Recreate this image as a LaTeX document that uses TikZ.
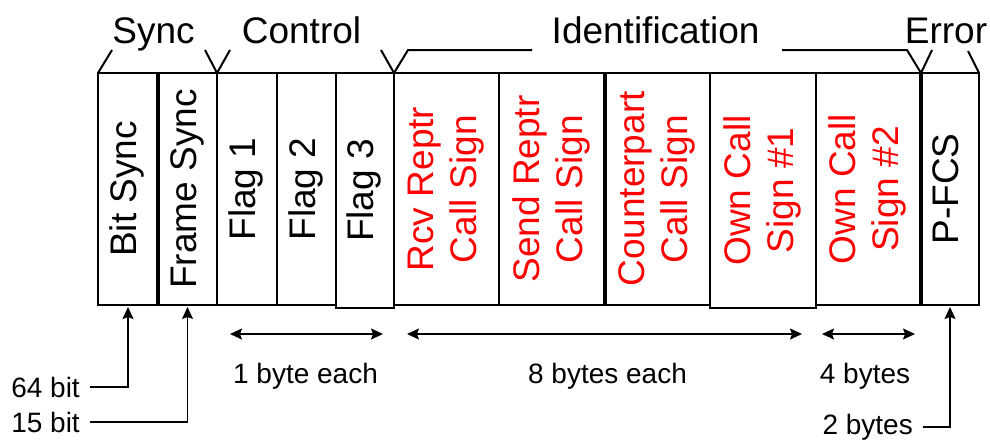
\documentclass[tikz,border=0pt]{standalone}
\usepackage{fontspec}
\setmainfont{Liberation Sans}
\usetikzlibrary{
    positioning,
    arrows.meta
}
\tikzset{
    >={Stealth[length=12pt, width=11pt, inset=2pt]},
    field/.style={
        draw,
        line width=2pt,
        inner sep=0pt,
        outer sep=0pt,
        minimum height=232pt,
        anchor=north west,
        font=\fontsize{37}{43}\selectfont
    },
    tall/.style={minimum height=235pt},
    ident/.style={text=red},
    head/.style={
        inner sep=0pt,
        anchor=base,
        font=\fontsize{37}{43}\selectfont
    },
    note/.style={
        inner sep=0pt,
        font=\fontsize{28}{32}\selectfont
    },
    brace/.style={line width=2pt},
    sep/.style={line width=4pt},
    span/.style={<->, line width=1.5pt},
    lead/.style={->, line width=1.5pt, shorten <=10pt, shorten >=2pt}
}
\newcommand{\vlabel}[1]{\rotatebox{90}{\begin{tabular}{@{}c@{}}#1\end{tabular}}}

\begin{document}
\begin{tikzpicture}[
    x=1pt,
    y=-1pt
]
    \useasboundingbox (0,0) rectangle (990,439);

    % Campos
    \node[field, minimum width=60pt]       (bit)   at (98,73)           {\vlabel{Bit Sync}};
    \node[field, minimum width=59pt]       (frame) at (bit.north east)   {\vlabel{Frame Sync}};
    \node[field, minimum width=60pt]       (flagA) at (frame.north east) {\vlabel{Flag 1}};
    \node[field, minimum width=59pt]       (flagB) at (flagA.north east) {\vlabel{Flag 2}};
    \node[field, tall, minimum width=58pt] (flagC) at (flagB.north east) {\vlabel{Flag 3}};

    \node[field, ident, minimum width=105pt]       (rcv)  at (flagC.north east) {\vlabel{Rcv Reptr\\Call Sign}};
    \node[field, ident, minimum width=106pt]       (send) at (rcv.north east)   {\vlabel{Send Reptr\\Call Sign}};
    \node[field, ident, minimum width=105pt]       (ctp)  at (send.north east)  {\vlabel{Counterpart\\Call Sign}};
    \node[field, ident, tall, minimum width=106pt] (ownA) at (ctp.north east)   {\vlabel{Own Call\\Sign \#1}};
    \node[field, ident, minimum width=105pt]       (ownB) at (ownA.north east)  {\vlabel{Own Call\\Sign \#2}};

    \node[field, minimum width=58pt] (fcs) at (ownB.north east) {\vlabel{P-FCS}};

    % Separadores gruesos
    \draw[sep] (bit.north east)  -- (bit.south east);
    \draw[sep] (send.north east) -- (send.south east);
    \draw[sep] (ownB.north east) -- (ownB.south east);

    % Encabezados
    \node[head] (sync) at (153.5,43) {Sync};
    \node[head] (ctrl) at (301.5,43) {Control};
    \node[head] (idt)  at (655.6,43) {Identification};
    \node[head] (err)  at (946,43)   {Error};

    \coordinate (idl) at (532,50);
    \coordinate (idr) at (782,50);

    \draw[brace] (bit.north west) -- ++(14,-23);
    \draw[brace] ([shift={(-12,-23)}]flagA.north west)
        -- (flagA.north west) -- ++(13,-23);
    \draw[brace] ([shift={(-13,-23)}]rcv.north west)
        -- (rcv.north west) -- ++(14,-23) -- (idl);
    \draw[brace] (idr) -- ([shift={(-14,-23)}]fcs.north west)
        -- (fcs.north west) -- ++(11,-23);
    \draw[brace] (fcs.north east) -- ++(-11,-22);

    % Tamanos
    \coordinate (s1a) at (230,334);
    \coordinate (s1b) at (383,334);
    \coordinate (s8a) at (407,334);
    \coordinate (s8b) at (802,334);
    \coordinate (s4a) at (822,334);
    \coordinate (s4b) at (915,334);

    \draw[span] (s1a) -- (s1b);
    \draw[span] (s8a) -- (s8b);
    \draw[span] (s4a) -- (s4b);

    \node[note, anchor=base] (one)   at (305.5,383) {1 byte each};
    \node[note, anchor=base] (eight) at (607.5,383) {8 bytes each};
    \node[note, anchor=base] (four)  at (865,383)   {4 bytes};

    % Longitudes
    \node[note, anchor=east] (b64) at (80,387)  {64 bit};
    \node[note, anchor=east] (b15) at (80,422)  {15 bit};
    \node[note, anchor=east] (b2)  at (913,427) {2 bytes};

    \draw[lead] (b64.east) -| (bit.south);
    \draw[lead] (b15.east) -| (frame.south);
    \draw[lead] (b2.east)  -| (fcs.south);

\end{tikzpicture}
\end{document}
